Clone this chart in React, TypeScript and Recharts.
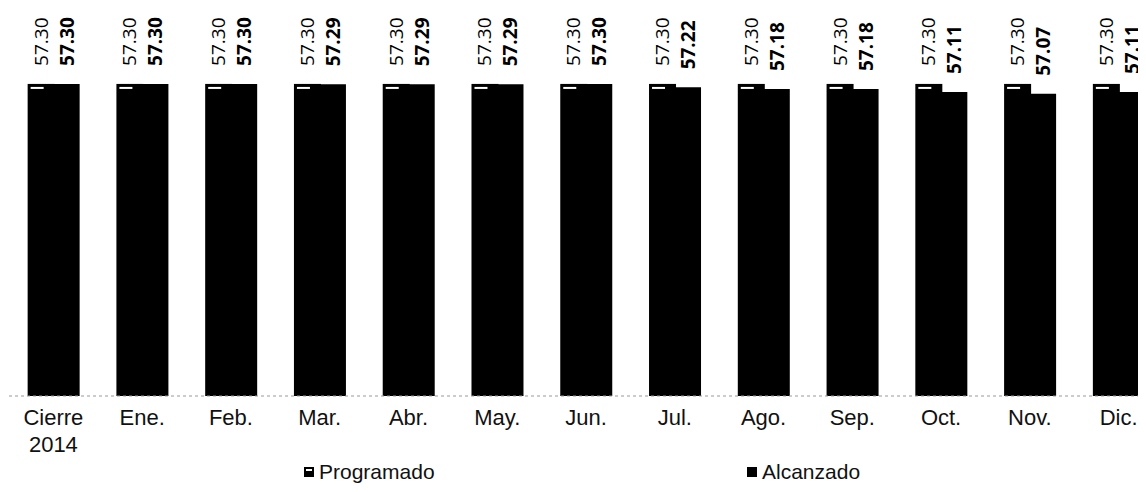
import React from 'react';
import { BarChart, Bar, XAxis, YAxis, Legend, LabelList } from 'recharts';

const categorias = ['Cierre\n2014', 'Ene.', 'Feb.', 'Mar.', 'Abr.', 'May.', 'Jun.', 'Jul.', 'Ago.', 'Sep.', 'Oct.', 'Nov.', 'Dic.'];
const programado = [57.3, 57.3, 57.3, 57.3, 57.3, 57.3, 57.3, 57.3, 57.3, 57.3, 57.3, 57.3, 57.3];
const alcanzado = [57.3, 57.3, 57.3, 57.29, 57.29, 57.29, 57.3, 57.22, 57.18, 57.18, 57.11, 57.07, 57.11];

const data = categorias.map((mes, i) => ({
  mes,
  programado: programado[i],
  alcanzado: alcanzado[i],
}));

const tickFont = '"Liberation Sans", Arial, sans-serif';
const labelFont = '"Open Sans", "DejaVu Sans", sans-serif';

// barra programada: negra con una rayita blanca arriba
function ProgramadoShape(props: any) {
  const { x, y, width, height } = props;
  return (
    <g>
      <rect x={x} y={y} width={width + 1} height={height} fill="#000" />
      <rect x={x + 3} y={y + 3} width={width * 0.5} height={2} fill="#fff" />
    </g>
  );
}

function CategoriaTick(props: any) {
  const { x, y, payload } = props;
  const lineas = String(payload.value).split('\n');
  return (
    <text x={x} y={y} textAnchor="middle" fontFamily={tickFont} fontSize={22} fill="#111">
      {lineas.map((l, i) => (
        <tspan key={i} x={x} dy={i === 0 ? 21 : 27}>
          {l}
        </tspan>
      ))}
    </text>
  );
}

function makeLabel(bold: boolean) {
  return (props: any) => {
    const { x, y, width, value } = props;
    const cx = x + width / 2;
    const cy = y - 18;
    return (
      <text
        x={cx}
        y={cy}
        transform={`rotate(-90, ${cx}, ${cy})`}
        textAnchor="start"
        dominantBaseline="central"
        fontFamily={labelFont}
        fontSize={19}
        fontWeight={bold ? 700 : 400}
        fill="#000"
      >
        {Number(value).toFixed(2)}
      </text>
    );
  };
}

function Leyenda() {
  const item = (left: number, texto: string, marca: boolean) => (
    <div style={{ position: 'absolute', left, top: 8, display: 'flex', alignItems: 'center' }}>
      <svg width={12} height={12} style={{ marginRight: 4 }}>
        <rect x={1} y={1} width={10} height={10} fill="#000" />
        {marca && <rect x={3} y={3} width={6} height={2} fill="#fff" />}
      </svg>
      <span style={{ fontFamily: tickFont, fontSize: 21, color: '#111' }}>{texto}</span>
    </div>
  );
  return (
    <div style={{ position: 'relative', height: 40, width: 1146 }}>
      {item(303, 'Programado', true)}
      {item(746, 'Alcanzado', false)}
    </div>
  );
}

export default function App() {
  return (
    <div style={{ margin: -8, width: 1146, height: 492, overflow: 'hidden', background: '#fff' }}>
      <BarChart
        width={1164}
        height={492}
        data={data}
        margin={{ top: 54, right: 1, left: 9, bottom: 0 }}
        barCategoryGap="21%"
        barGap={0}
      >
        <XAxis
          dataKey="mes"
          height={56}
          interval={0}
          tickLine={false}
          axisLine={{ stroke: '#999', strokeDasharray: '3 3' }}
          tick={<CategoriaTick />}
        />
        <YAxis hide domain={[50, 58]} />
        <Legend verticalAlign="bottom" content={<Leyenda />} wrapperStyle={{ left: 0, width: 1146 }} />
        <Bar dataKey="programado" name="Programado" fill="#000" shape={<ProgramadoShape />} isAnimationActive={false}>
          <LabelList dataKey="programado" content={makeLabel(false)} />
        </Bar>
        <Bar dataKey="alcanzado" name="Alcanzado" fill="#000" isAnimationActive={false}>
          <LabelList dataKey="alcanzado" content={makeLabel(true)} />
        </Bar>
      </BarChart>
    </div>
  );
}
